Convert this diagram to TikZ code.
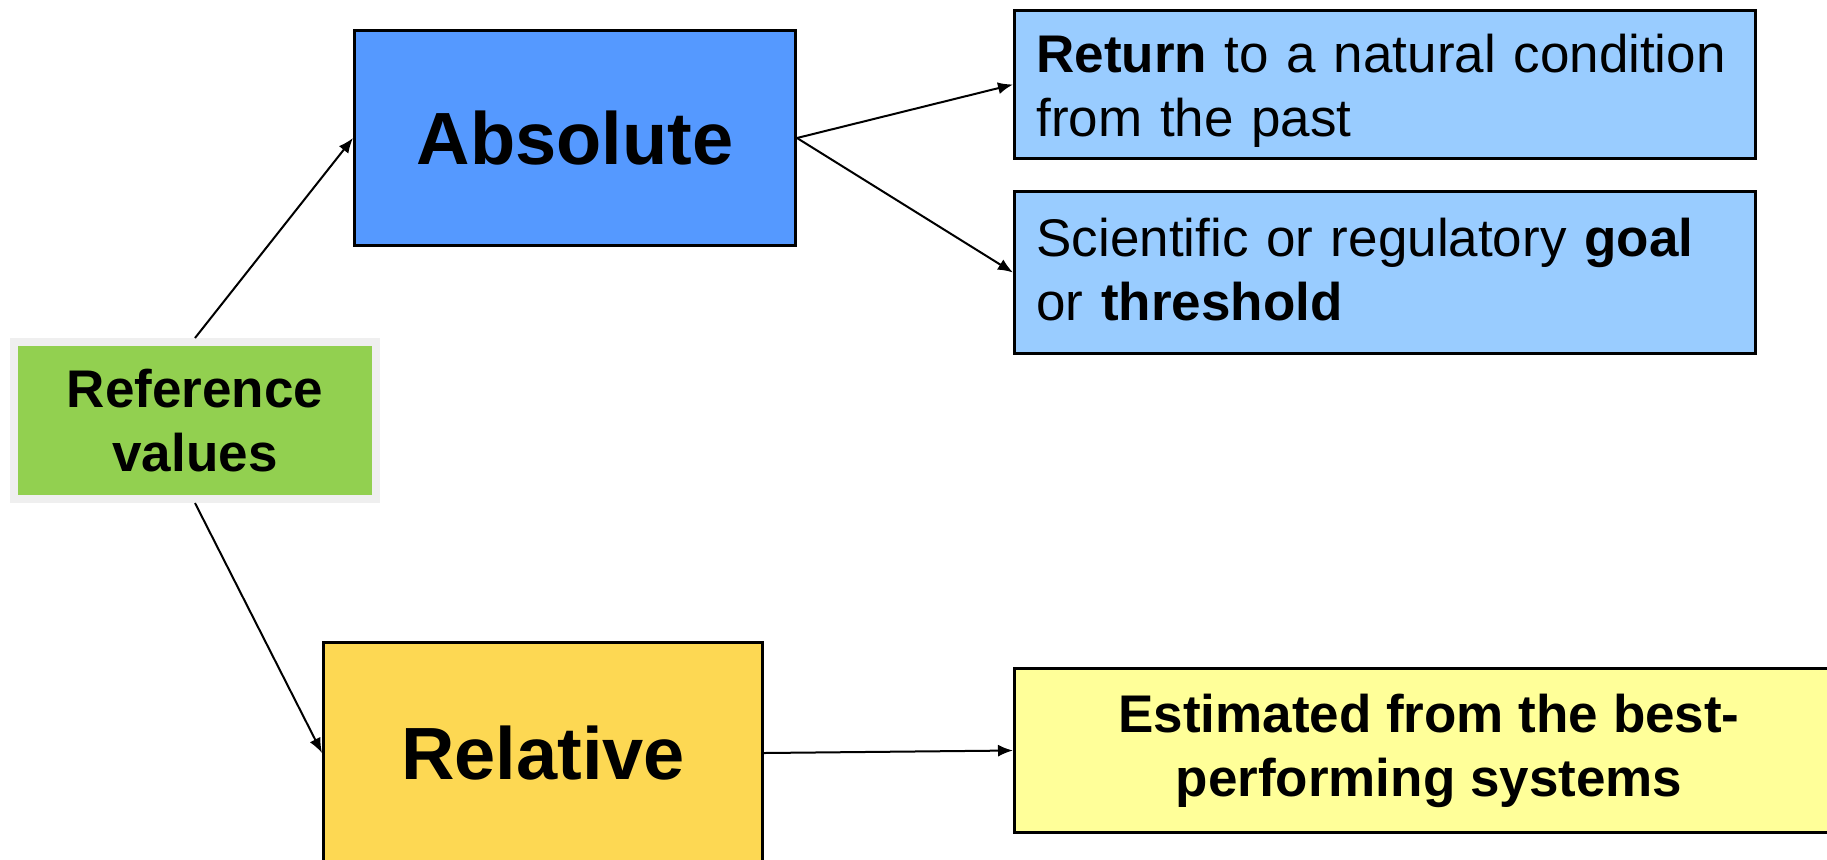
\documentclass[tikz,border=0pt]{standalone}
\usepackage{fontspec}
\setmainfont{Liberation Sans}
\usetikzlibrary{arrows.meta,shadows}

\definecolor{refgreen}{HTML}{92D050}
\definecolor{refrim}{HTML}{EFEFEF}
\definecolor{refshade}{HTML}{A0A080}
\definecolor{absblue}{HTML}{5599FF}
\definecolor{paleblue}{HTML}{99CCFF}
\definecolor{relgold}{HTML}{FDD853}
\definecolor{paleyellow}{HTML}{FFFF99}

% shift a line's ink vertically without changing its box
\newcommand{\nudge}[2]{\raisebox{#1}[\height][\depth]{#2}}

\tikzset{
  box/.style={draw=black, line width=1.5pt, rectangle, inner sep=0pt, align=center},
  bigword/.style={font=\bfseries\fontsize{37pt}{44pt}\selectfont},
  bodytext/.style={font=\fontsize{26.5pt}{32pt}\selectfont},
  leftbox/.style={box, bodytext, fill=paleblue, minimum width=370.5pt,
    text width=348.5pt, inner xsep=11pt, align=left},
  link/.style={line width=1pt, -{Latex[length=7.5pt,width=6pt]}}
}

\begin{document}
\begin{tikzpicture}[x=0.5pt, y=-0.5pt]
  \useasboundingbox (0,0) rectangle (1827,859);

  % root box with light rim and drop shadow
  \node[rectangle, inner sep=0pt, fill=refgreen, draw=refrim, line width=4pt,
        drop shadow={shadow xshift=2pt, shadow yshift=-2pt, fill=refshade, opacity=1},
        minimum width=181pt, minimum height=78.5pt, align=center,
        font=\bfseries\fontsize{26.5pt}{32pt}\selectfont]
    (ref) at (195,420.5) {Reference\\values};

  % first level
  \node[box, bigword, fill=absblue, minimum width=220.5pt, minimum height=107.5pt]
    (abs) at (575,138) {Absolute};
  \node[box, bigword, fill=relgold, minimum width=219.5pt, minimum height=110.5pt]
    (rel) at (543,753) {Relative};

  % second level
  \node[leftbox, minimum height=74pt] (ret) at (1385,84.5)
    {\nudge{-3pt}{\textbf{Return} to a natural condition}\\\nudge{-3pt}{from the past}};
  \node[leftbox, minimum height=81pt] (sci) at (1385,272.5)
    {\nudge{1.5pt}{Scientific or regulatory \textbf{goal}}\\\nudge{1.5pt}{or \textbf{threshold}}};
  \node[box, fill=paleyellow, minimum width=414.5pt, minimum height=82pt,
        font=\bfseries\fontsize{26.5pt}{32pt}\selectfont]
    (est) at (1429,750.5) {Estimated from the best-\\performing systems};

  % connectors
  \draw[link] (ref.north) -- (abs.west);
  \draw[link] (ref.south) -- (rel.west);
  \draw[link] (abs.east) -- (ret.west);
  \draw[link] (abs.east) -- (sci.west);
  \draw[link] (rel.east) -- (est.west);
\end{tikzpicture}
\end{document}
